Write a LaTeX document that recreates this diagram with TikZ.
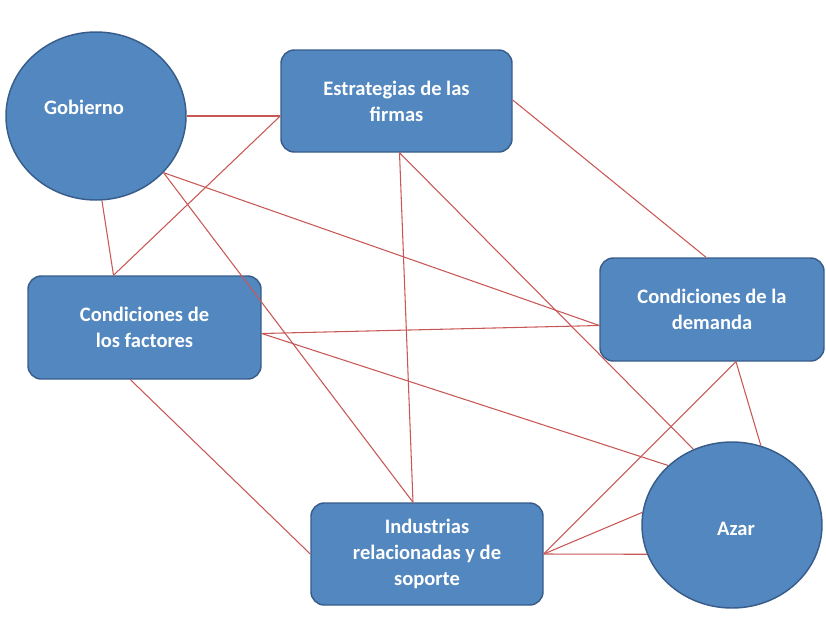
\documentclass[tikz,border=0pt]{standalone}
\usepackage{fontspec}
\setmainfont{Carlito}
\usetikzlibrary{shapes.geometric,calc}
\definecolor{boxfill}{RGB}{83,135,191}
\definecolor{boxline}{RGB}{56,93,138}
\definecolor{linkred}{RGB}{200,88,86}
\newcommand\pxu{0.75pt}
\tikzset{
  blob/.style={ellipse, draw=boxline, fill=boxfill, line width=1.1pt, inner sep=0pt},
  card/.style={rectangle, rounded corners=10pt, draw=boxline, fill=boxfill, line width=1.1pt,
    inner sep=0pt, text=white, align=center, font=\fontsize{15.4}{19.5}\selectfont\bfseries},
  lbl/.style={text=white, font=\fontsize{15.4}{19.5}\selectfont\bfseries},
  link/.style={draw=linkred, line width=0.8pt}
}
\begin{document}
\begin{tikzpicture}[x=0.75pt,y=-0.75pt]
\useasboundingbox (0,0) rectangle (826,633);
\path
  (96,116) node[blob, minimum width={180*\pxu}, minimum height={168*\pxu}] (gob) {}
  (732,525) node[blob, minimum width={180*\pxu}, minimum height={166*\pxu}] (azr) {}
  (396.5,101) node[card, minimum width={231*\pxu}, minimum height={102*\pxu}] (est) {Estrategias de las\\firmas}
  (144.5,327.5) node[card, minimum width={233*\pxu}, minimum height={103*\pxu}] (fac) {Condiciones de\\los factores}
  (712,309.5) node[card, minimum width={224*\pxu}, minimum height={103*\pxu}] (dem) {Condiciones de la\\demanda}
  (427,554) node[card, minimum width={232*\pxu}, minimum height={102*\pxu}] (ind) {Industrias\\relacionadas y de\\soporte};
\node[lbl] (gobt) at ($(gob.center)+(-12,-9)$) {Gobierno};
\node[lbl] (azrt) at ($(azr.center)+(4,4)$) {Azar};
\coordinate (estW) at ($(est.west)+(0,15)$);
\coordinate (estS) at ($(est.south)+(3,0)$);
\coordinate (estE) at ($(est.east)+(0,-1)$);
\coordinate (facN) at ($(fac.north)+(-31,0)$);
\coordinate (facE) at ($(fac.east)+(0,6)$);
\coordinate (facS) at ($(fac.south)+(-14,0)$);
\coordinate (demW) at ($(dem.west)+(0,16)$);
\coordinate (demN) at ($(dem.north)+(-6,0)$);
\coordinate (demS) at ($(dem.south)+(24,0)$);
\coordinate (indN) at ($(ind.north)+(-14,0)$);
\draw[link] (gob.east) -- (estW);
\draw[link] (gob.-86) -- (facN);
\draw[link] (estW) -- (facN);
\draw[link] (gob.-40) -- (indN);
\draw[link] (gob.-40) -- (demW);
\draw[link] (estS) -- (indN);
\draw[link] (estS) -- (azr.117);
\draw[link] (estE) -- (demN);
\draw[link] (facE) -- (demW);
\draw[link] (facE) -- (azr.137);
\draw[link] (facS) -- (ind.west);
\draw[link] (demS) -- (ind.east);
\draw[link] (demS) -- (azr.70);
\draw[link] (ind.east) -- (azr.172);
\draw[link] (ind.east) -- (azr.199);
\end{tikzpicture}
\end{document}
